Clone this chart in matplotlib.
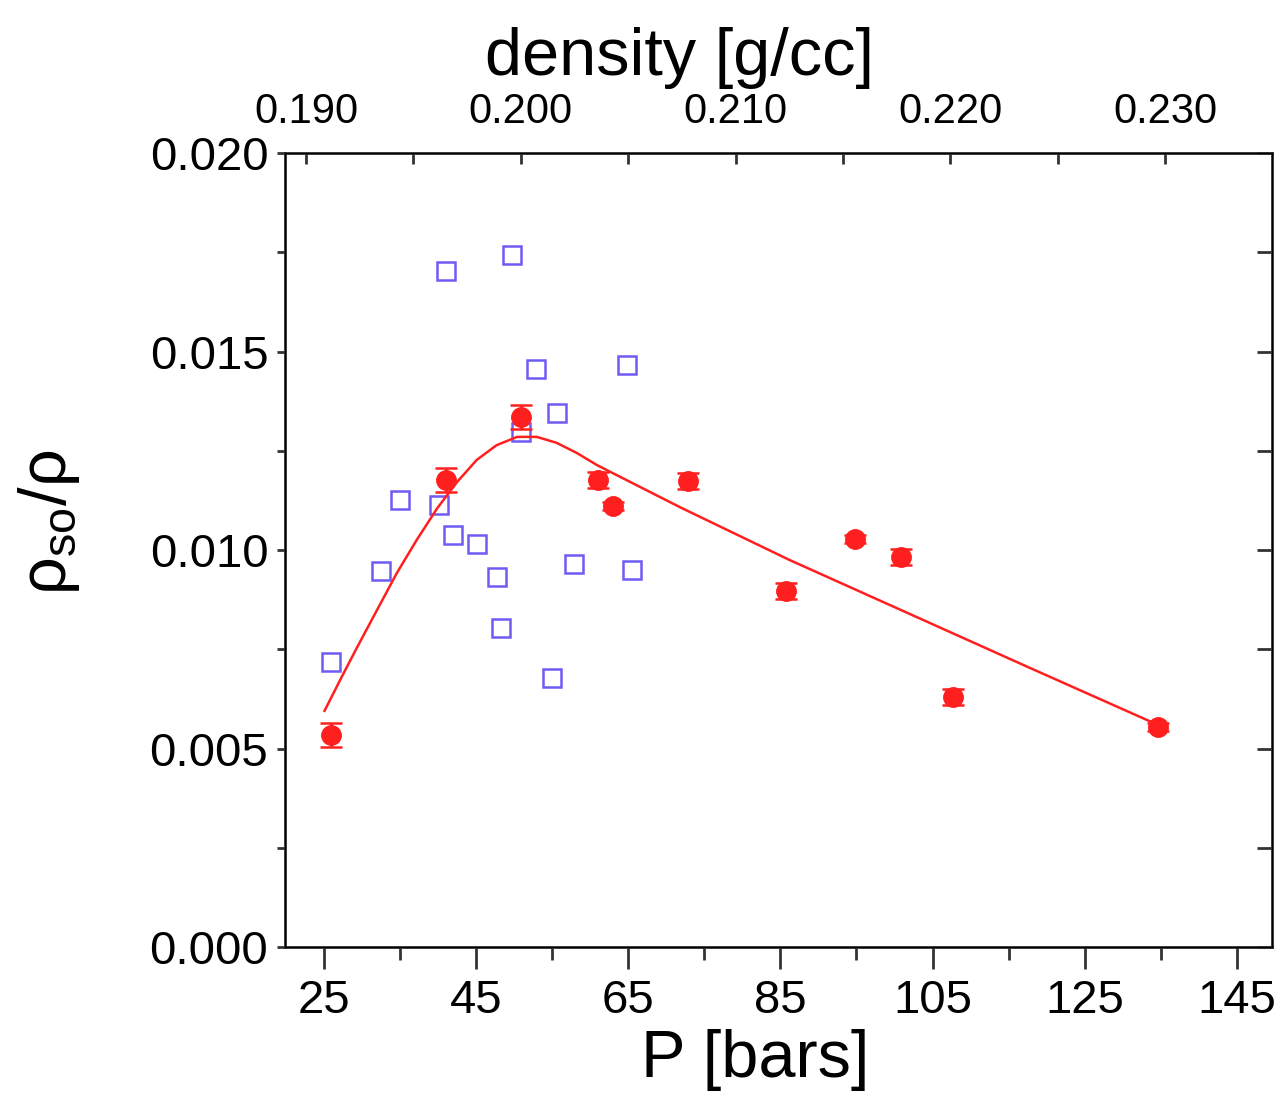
import numpy as np
import matplotlib
matplotlib.use('Agg')
import matplotlib.pyplot as plt
from matplotlib.ticker import MultipleLocator, FixedLocator, FormatStrFormatter

plt.rcParams['font.family'] = ['Liberation Sans', 'DejaVu Sans']
plt.rcParams['mathtext.fontset'] = 'custom'
plt.rcParams['mathtext.rm'] = 'Liberation Sans'
plt.rcParams['mathtext.it'] = 'Liberation Sans:italic'

# --- data ------------------------------------------------------------------
# red: measured points with error bars
p_red = [25.9, 41.0, 50.9, 61.0, 63.0, 72.8, 85.8, 94.8, 100.8, 107.7, 134.6]
r_red = [0.00534, 0.01176, 0.01335, 0.01176, 0.01111, 0.01174, 0.00897,
         0.01028, 0.00982, 0.00630, 0.00554]
r_err = [0.0003, 0.0003, 0.0003, 0.0002, 0.0001, 0.0002, 0.0002,
         0.0001, 0.0002, 0.0002, 0.0001]

# red: fitted curve
p_fit = [25.1, 27.4, 29.3, 32.0, 34.6, 37.2, 39.9, 42.5, 45.1, 47.7, 50.4,
         53.0, 55.6, 58.3, 60.9, 71.8, 86.2, 117.8, 134.1]
r_fit = [0.00595, 0.00682, 0.00752, 0.00849, 0.00942, 0.01025, 0.01105,
         0.01171, 0.01227, 0.01264, 0.01285, 0.01285, 0.01270, 0.01244,
         0.01214, 0.01108, 0.00975, 0.00703, 0.00564]

# blue: open squares
p_blue = [25.9, 32.5, 35.0, 40.2, 41.0, 42.0, 45.2, 47.7, 48.3, 49.8, 50.9,
          52.9, 55.0, 55.7, 57.9, 64.8, 65.5]
r_blue = [0.00718, 0.00947, 0.01126, 0.01113, 0.01703, 0.01038, 0.01015,
          0.00932, 0.00804, 0.01743, 0.01297, 0.01456, 0.00678, 0.01345,
          0.00965, 0.01466, 0.00950]

P_LIM = (19.9, 149.6)
Y_LIM = (0.0, 0.020)
DENS_LIM = (0.18902, 0.23497)
X_TICKS = [25, 45, 65, 85, 105, 125, 145]
X_MINOR = [35, 55, 75, 95, 115, 135]
DENS_TICKS = [0.190, 0.200, 0.210, 0.220, 0.230]

RED = '#ff1f1f'
BLUE = '#6e5cf5'
SPINE = '#333333'

fig = plt.figure(figsize=(12.83, 10.97), dpi=100)
ax = fig.add_axes([0.2221, 0.1367, 0.7693, 0.7238])

ax.plot(p_blue, r_blue, linestyle='none', marker='s', markersize=12.5,
        markerfacecolor='none', markeredgecolor=BLUE, markeredgewidth=1.8,
        zorder=2)
ax.plot(p_fit, r_fit, color=RED, lw=1.8, zorder=3)
ax.errorbar(p_red, r_red, yerr=r_err, fmt='o', color=RED, markersize=14,
            elinewidth=1.8, capsize=8, capthick=1.8, zorder=4)

ax.set_xlim(*P_LIM)
ax.set_ylim(*Y_LIM)
ax.set_xticks(X_TICKS)
ax.xaxis.set_minor_locator(FixedLocator(X_MINOR))
ax.yaxis.set_major_locator(MultipleLocator(0.005))
ax.yaxis.set_minor_locator(MultipleLocator(0.0025))
ax.yaxis.set_major_formatter(FormatStrFormatter('%.3f'))
ax.tick_params(axis='x', which='major', direction='out', length=16, width=2,
               labelsize=34, pad=7, color=SPINE)
ax.tick_params(axis='x', which='minor', direction='out', length=9, width=2,
               color=SPINE)
ax.tick_params(axis='y', which='both', direction='out', length=6, width=2,
               labelsize=34, pad=6, color=SPINE)
ax.set_xlabel('P [bars]', fontsize=48)
ax.xaxis.set_label_coords(0.476, -0.103)
ax.set_ylabel(r'$\mathrm{ρ_{so}/ρ}$', fontsize=48)
ax.yaxis.set_label_coords(-0.206, 0.535)
for s in ax.spines.values():
    s.set_linewidth(2)
    s.set_color(SPINE)

# top density axis
ax2 = ax.twiny()
ax2.set_xlim(*DENS_LIM)
ax2.set_xticks(DENS_TICKS)
ax2.xaxis.set_minor_locator(MultipleLocator(0.005))
ax2.xaxis.set_major_formatter(FormatStrFormatter('%.3f'))
ax2.tick_params(axis='x', which='both', direction='in', length=8, width=2,
                labelsize=30, pad=15, color=SPINE)
ax2.set_xlabel('density [g/cc]', fontsize=48)
ax2.xaxis.set_label_coords(0.400, 1.098)

# right ticks (inward, no labels)
ax3 = ax.twinx()
ax3.set_ylim(*Y_LIM)
ax3.yaxis.set_major_locator(MultipleLocator(0.005))
ax3.yaxis.set_minor_locator(MultipleLocator(0.0025))
ax3.tick_params(axis='y', which='both', direction='in', length=11, width=2,
                labelright=False, color=SPINE)

fig.savefig('out.png', dpi=100)
